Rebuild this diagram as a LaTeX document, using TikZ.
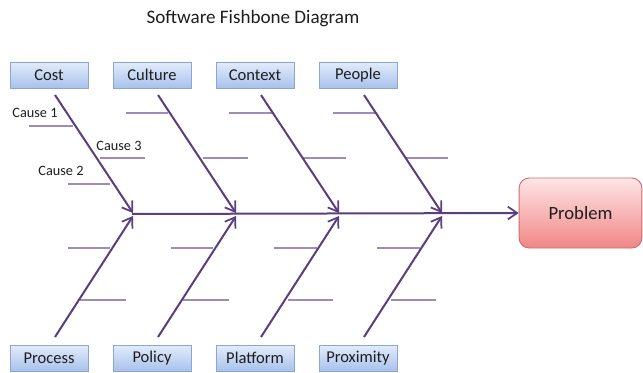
\documentclass[tikz,border=0pt]{standalone}
\usepackage{fontspec}
\setmainfont{Carlito}
\usetikzlibrary{arrows.meta}
\definecolor{bone}{HTML}{5A3E7E}
\definecolor{subbone}{HTML}{9C8CBA}
\definecolor{boxtop}{HTML}{E2ECFA}
\definecolor{boxbot}{HTML}{A8C2EC}
\definecolor{boxedge}{HTML}{8AA6D4}
\definecolor{probtop}{HTML}{FFE6E6}
\definecolor{probbot}{HTML}{F08686}
\definecolor{probedge}{HTML}{CF6E6E}
\definecolor{txt}{HTML}{1E1E1E}
\begin{document}
\begin{tikzpicture}[x=0.75pt,y=-0.75pt,
  cat/.style={draw=boxedge, line width=0.6pt, top color=boxtop, bottom color=boxbot,
    minimum width=58.5pt, minimum height=19.5pt, inner sep=0pt,
    font=\fontsize{12.4}{14}\selectfont, text=txt},
  prob/.style={draw=probedge, line width=0.7pt, top color=probtop, bottom color=probbot,
    rounded corners=7.5pt, minimum width=92pt, minimum height=52.5pt, inner sep=0pt,
    font=\fontsize{14}{16}\selectfont, text=txt},
  bonearrow/.style={draw=bone, line width=1.5pt,
    -{Straight Barb[length=7pt,width=9.5pt,line width=1.3pt]}},
  causeline/.style={draw=subbone, line width=0.8pt},
  causelbl/.style={font=\fontsize{10.7}{12}\selectfont, text=txt, inner sep=0pt}]
\useasboundingbox[fill=white] (0,0) rectangle (643,372);

% title
\node[font=\fontsize{14.3}{16}\selectfont, text=txt] (title) at (253,19) {Software Fishbone Diagram};

% category boxes
\node[cat] (cost)    at (49,75)  {Cost};
\node[cat] (culture) at (152,75) {Culture};
\node[cat] (context) at (255,75) {Context};
\node[cat] (people)  at (358,75) {People};
\node[cat] (process)   at (49,358)  {Process};
\node[cat] (policy)    at (152,358) {Policy};
\node[cat] (platform)  at (255,358) {Platform};
\node[cat] (proximity) at (358,358) {Proximity};

% problem
\node[prob] (problem) at (580.5,213) {Problem};

% bone coordinates
\coordinate (ts0) at (55,95);   \coordinate (te0) at (133,213);
\coordinate (ts1) at (158,95);  \coordinate (te1) at (236,213);
\coordinate (ts2) at (261,95);  \coordinate (te2) at (339,213);
\coordinate (ts3) at (364,95);  \coordinate (te3) at (442,213);
\coordinate (bs0) at (55,337);  \coordinate (be0) at (133,216);
\coordinate (bs1) at (158,337); \coordinate (be1) at (236,216);
\coordinate (bs2) at (261,337); \coordinate (be2) at (339,216);
\coordinate (bs3) at (364,337); \coordinate (be3) at (442,216);
\coordinate (spine) at (132,214);

% cause lines
\draw[causeline] (29,126) -- (73,126);
\draw[causeline] (100,158) -- (145,158);
\draw[causeline] (68,184) -- (110,184);
\draw[causeline] (126,113) -- (168,113);
\draw[causeline] (203,158) -- (248,158);
\draw[causeline] (229,113) -- (272,113);
\draw[causeline] (303,158) -- (346,158);
\draw[causeline] (333,113) -- (375,113);
\draw[causeline] (405,158) -- (448,158);
\draw[causeline] (68,248) -- (110,248);
\draw[causeline] (80,300) -- (126,300);
\draw[causeline] (171,248) -- (213,248);
\draw[causeline] (183,300) -- (229,300);
\draw[causeline] (274,248) -- (317,248);
\draw[causeline] (288,300) -- (333,300);
\draw[causeline] (377,248) -- (420,248);
\draw[causeline] (391,300) -- (436,300);

% cause labels
\node[causelbl] (c1) at (35,113) {Cause 1};
\node[causelbl] (c3) at (119,146) {Cause 3};
\node[causelbl] (c2) at (61,171) {Cause 2};

% spine
\draw[bonearrow] (spine) -- (problem.west);

% bones
\foreach \i in {0,1,2,3}{
  \draw[bonearrow] (ts\i) -- (te\i);
  \draw[bonearrow] (bs\i) -- (be\i);
}
\end{tikzpicture}
\end{document}
